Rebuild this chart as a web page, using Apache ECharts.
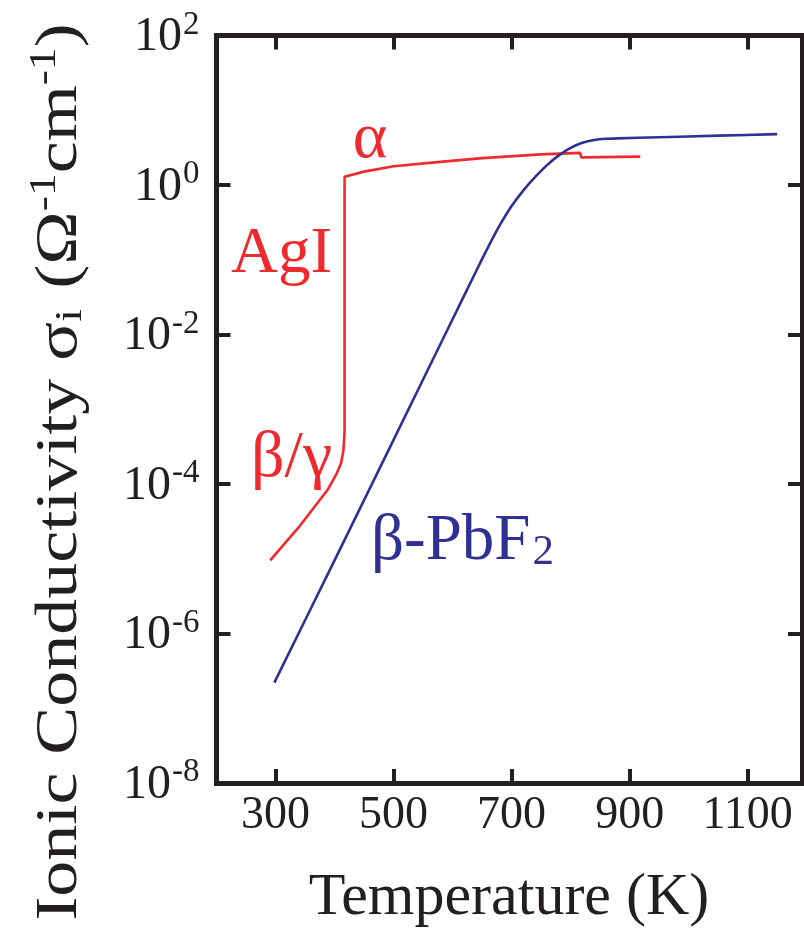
<!DOCTYPE html>
<html>
<head>
<meta charset="utf-8">
<script src="https://cdn.jsdelivr.net/npm/echarts@6/dist/echarts.min.js"></script>
<style>
  html, body { margin: 0; padding: 0; background: #ffffff; }
  #chart { width: 804px; height: 949px; }
</style>
</head>
<body>
<div id="chart"></div>
<script>
// Temperature tick labels (K) and conductivity decade labels (powers of ten)
const xTickValues = [300, 500, 700, 900, 1100];
const yTickExponents = [-8, -6, -4, -2, 0, 2];

// AgI: beta/gamma phase, jump at the alpha transition, then alpha phase
const agiTemperature = [291, 342, 388, 404, 411, 415, 417, 417, 450, 500, 579, 650, 749, 816, 818, 918];
const agiSigma = [9.5e-6, 2.8e-5, 8.3e-5, 1.4e-4, 1.9e-4, 2.8e-4, 5.0e-4, 1.29, 1.51, 1.78, 2.04, 2.29, 2.57, 2.69, 2.34, 2.40];

// beta-PbF2: Arrhenius rise into the superionic plateau
const pbf2Temperature = [298, 400, 500, 600, 640, 660, 680, 700, 720, 740, 760, 780, 800, 820, 840, 860, 880, 950, 1050, 1150];
const pbf2Sigma = [2.2e-7, 9.5e-6, 3.9e-4, 1.6e-2, 0.0708, 0.1466, 0.2897, 0.5224, 0.8472, 1.282, 1.845, 2.489, 3.133, 3.664, 3.999, 4.150, 4.207, 4.35, 4.57, 4.79];

const INK = '#231f20';
const RED = '#ee2a2e';
const BLUE = '#2e3192';
const SERIF = '"Liberation Serif", "Times New Roman", serif';

function toLogPairs(xs, ys) {
  return xs.map((x, i) => [x, Math.log10(ys[i])]);
}

const yMin = yTickExponents[0];
const yMax = yTickExponents[yTickExponents.length - 1];
const yStep = yTickExponents[1] - yTickExponents[0];

const tickStyle = { show: true, inside: true, length: 14, lineStyle: { color: INK, width: 4 } };
const lineStyle = { show: true, onZero: false, lineStyle: { color: INK, width: 5, cap: 'square' } };

const chart = echarts.init(document.getElementById('chart'), null, { renderer: 'canvas' });

chart.setOption({
  animation: false,
  backgroundColor: '#ffffff',
  grid: { left: 216.5, right: 2, top: 35.5, bottom: 166, containLabel: false, outerBoundsMode: 'none' },
  xAxis: [
    {
      type: 'value', min: 200, max: 1192, position: 'bottom',
      axisLine: lineStyle,
      axisTick: Object.assign({ customValues: xTickValues }, tickStyle),
      splitLine: { show: false },
      axisLabel: {
        customValues: xTickValues, margin: 10,
        formatter: (v) => String(v),
        color: INK, fontFamily: SERIF, fontSize: 46
      }
    },
    {
      type: 'value', min: 200, max: 1192, position: 'top',
      axisLine: lineStyle,
      axisTick: Object.assign({ customValues: xTickValues }, tickStyle),
      splitLine: { show: false },
      axisLabel: { show: false }
    }
  ],
  yAxis: [
    {
      type: 'value', min: yMin, max: yMax, interval: yStep, position: 'left',
      axisLine: lineStyle,
      axisTick: tickStyle,
      splitLine: { show: false },
      axisLabel: {
        margin: 17, color: INK,
        formatter: (v) => '{b|10}{s|' + String(v) + '}',
        rich: {
          b: { fontFamily: SERIF, fontSize: 48, color: INK, lineHeight: 52, verticalAlign: 'bottom' },
          s: { fontFamily: SERIF, fontSize: 33, color: INK, lineHeight: 52, verticalAlign: 'bottom', padding: [0, 0, 20, 1] }
        }
      }
    },
    {
      type: 'value', min: yMin, max: yMax, interval: yStep, position: 'right',
      axisLine: lineStyle,
      axisTick: tickStyle,
      splitLine: { show: false },
      axisLabel: { show: false }
    }
  ],
  series: [
    {
      name: 'AgI', type: 'line', xAxisIndex: 0, yAxisIndex: 0,
      data: toLogPairs(agiTemperature, agiSigma),
      showSymbol: false, smooth: false,
      lineStyle: { color: RED, width: 2.6 }
    },
    {
      name: 'β-PbF2', type: 'line', xAxisIndex: 0, yAxisIndex: 0,
      data: toLogPairs(pbf2Temperature, pbf2Sigma),
      showSymbol: false, smooth: 0.2,
      lineStyle: { color: BLUE, width: 2.6 }
    }
  ],
  graphic: [
    {
      type: 'text', x: 509, y: 898,
      style: { text: 'Temperature (K)', fill: INK, font: '60px ' + SERIF, align: 'center', verticalAlign: 'middle' }
    },
    {
      type: 'text', x: 55, y: 472, rotation: Math.PI / 2, scaleX: 1.2,
      style: {
        text: '{t|Ionic Conductivity σ}{sub|i}{t| (Ω}{sup|-1}{t|cm}{sup|-1}{t|)}',
        align: 'center', verticalAlign: 'middle',
        rich: {
          t: { fill: INK, fontFamily: SERIF, fontSize: 60, lineHeight: 70, verticalAlign: 'bottom' },
          sub: { fill: INK, fontFamily: SERIF, fontSize: 38, lineHeight: 70, verticalAlign: 'bottom', padding: [0, 2, 0, 0] },
          sup: { fill: INK, fontFamily: SERIF, fontSize: 38, lineHeight: 70, verticalAlign: 'bottom', padding: [0, 0, 26, 0] }
        }
      }
    },
    {
      type: 'text', x: 370, y: 140,
      style: { text: 'α', fill: RED, font: '66px ' + SERIF, align: 'center', verticalAlign: 'middle' }
    },
    {
      type: 'text', x: 231, y: 255,
      style: { text: 'AgI', fill: RED, font: '65px ' + SERIF, align: 'left', verticalAlign: 'middle' }
    },
    {
      type: 'text', x: 251, y: 459,
      style: { text: 'β/γ', fill: RED, font: '66px ' + SERIF, align: 'left', verticalAlign: 'middle' }
    },
    {
      type: 'text', x: 371, y: 539,
      style: {
        text: '{t|β-PbF}{sub|2}',
        align: 'left', verticalAlign: 'middle',
        rich: {
          t: { fill: BLUE, fontFamily: SERIF, fontSize: 65, lineHeight: 70, verticalAlign: 'bottom' },
          sub: { fill: BLUE, fontFamily: SERIF, fontSize: 43, lineHeight: 70, verticalAlign: 'bottom', padding: [0, 0, 0, 2] }
        }
      }
    }
  ]
});
</script>
</body>
</html>
